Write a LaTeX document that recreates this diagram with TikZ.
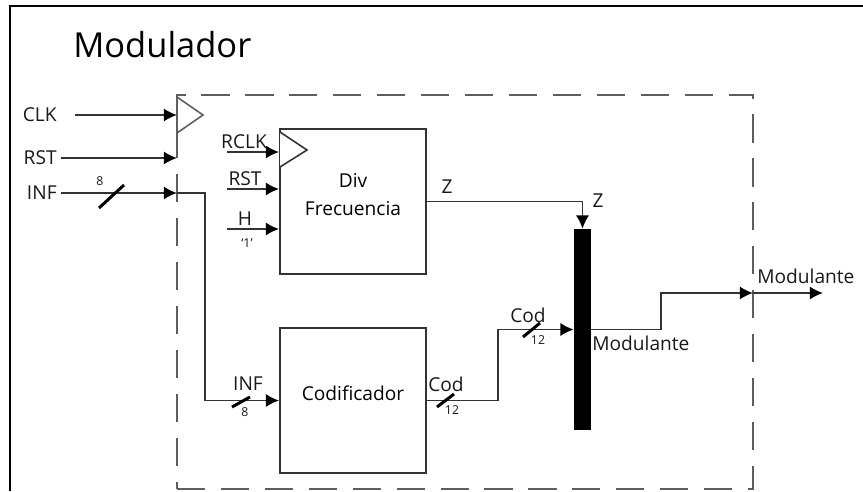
\documentclass[tikz,border=0pt]{standalone}
\usepackage{fontspec}
\setmainfont{Open Sans}
\usetikzlibrary{arrows.meta,fit}

\definecolor{linea}{HTML}{333333}
\definecolor{trazo}{HTML}{5E5E5E}

\tikzset{
    wire/.style={draw=linea, line width=1pt},
    bloque/.style={draw=linea, line width=1.1pt, fill=white, inner sep=0pt},
    etiq/.style={inner sep=0pt, text=black!90},
    ancho/.style={inner sep=0pt, text=black!90, font=\fontsize{7}{8}\selectfont},
    barra/.style={draw=black, line width=1.7pt},
}

\begin{document}
\begin{tikzpicture}[x=0.02cm, y=-0.02cm, >={Latex[length=7.5pt,width=7.5pt,color=black]}, font=\fontsize{10.9}{13}\selectfont]

    \useasboundingbox (0,0) rectangle (863,491);

    % 1. Marco exterior y titulo
    \draw[line width=1.2pt] (10,491) -- (10,6) -- (863,6);
    \node[anchor=base west, inner sep=0pt, font=\fontsize{19.6}{23}\selectfont] (titulo) at (73,57) {Modulador};

    % 2. Bloque modulador (rectangulo discontinuo) con su reloj
    \node[fit={(177,95) (753,489)}, draw=trazo, line width=1.2pt, dash pattern=on 16pt off 9pt, inner sep=0pt] (mod) {};
    \draw[draw=trazo, line width=0.9pt, fill=white] (177,97) -- (203,115) -- (177,133) -- cycle;

    % 3. Bloques internos
    \node[bloque, fit={(280,129) (426,274)}, align=center, font=\fontsize{10.9}{15.9}\selectfont] (div) {Div\\Frecuencia};
    \draw[wire, line width=0.9pt, fill=white] (280,132) -- (307,150) -- (280,167);
    \node[bloque, fit={(280,328) (426,473)}] (cod) {Codificador};
    \node[fit={(574,229) (591,430)}, fill=black, inner sep=0pt] (mux) {};

    % 4. Entradas del modulador
    \foreach \y/\n/\lab/\s in {115/clk/CLK/10, 158/rst/RST/2, 193/inf/INF/2} {
        \node[etiq, anchor=east] (\n) at (57,\y) {\lab};
        \coordinate (\n-in) at (177,\y);
        \draw[wire, ->, shorten <=\s pt] (\n) -- (\n-in);
    }
    \draw[wire, ->] (inf-in) -- (205,193) |- (cod.west);

    % 5. Entradas del divisor
    \foreach \y/\n/\lab/\x in {152/rclk/RCLK/244, 189/rstd/RST/245, 229/hd/H/245} {
        \coordinate (\n) at (227,\y);
        \draw[wire, ->] (\n) -- (\n -| div.west);
        \node[etiq, anchor=base] (\n-lab) at (\x,\y-4) {\lab};
    }
    \node[ancho] (uno) at (247,243) {`1'};

    % 6. Salidas
    \draw[wire, ->] (div.east) -| (mux.north);
    \draw[wire, ->] (cod.east) -- ++(71,0) |- (mux.west);
    \coordinate (mod-out) at (753,293);
    \coordinate (salida) at (823,293);
    \draw[wire, ->] (mux.east) -- ++(70,0) |- (mod-out);
    \draw[wire, ->] (mod-out) -- (salida);

    % 7. Etiquetas de senales
    \node[etiq, anchor=base] (z-div) at (447,193) {Z};
    \node[etiq, anchor=base] (z-mux) at (598,207) {Z};
    \node[etiq, anchor=base] (inf-cod) at (248,390) {INF};
    \node[etiq, anchor=base] (cod-a) at (446,391) {Cod};
    \node[etiq, anchor=base] (cod-b) at (528,322) {Cod};
    \node[etiq, anchor=base west] (mod-a) at (592,350) {Modulante};
    \node[etiq, anchor=base west] (mod-b) at (757,283) {Modulante};

    % 8. Buses (barra y ancho)
    \foreach \xa/\ya/\xb/\yb in {99/208/124/185, 232/407/250/397, 437/407/454/394, 523/337/540/323} {
        \draw[barra] (\xa,\ya) -- (\xb,\yb);
    }
    \foreach \x/\y/\w/\n in {100/181/8/w-inf, 245/412/8/w-infcod, 452/410/12/w-cod, 538/340/12/w-mux} {
        \node[ancho] (\n) at (\x,\y) {\w};
    }

\end{tikzpicture}
\end{document}
